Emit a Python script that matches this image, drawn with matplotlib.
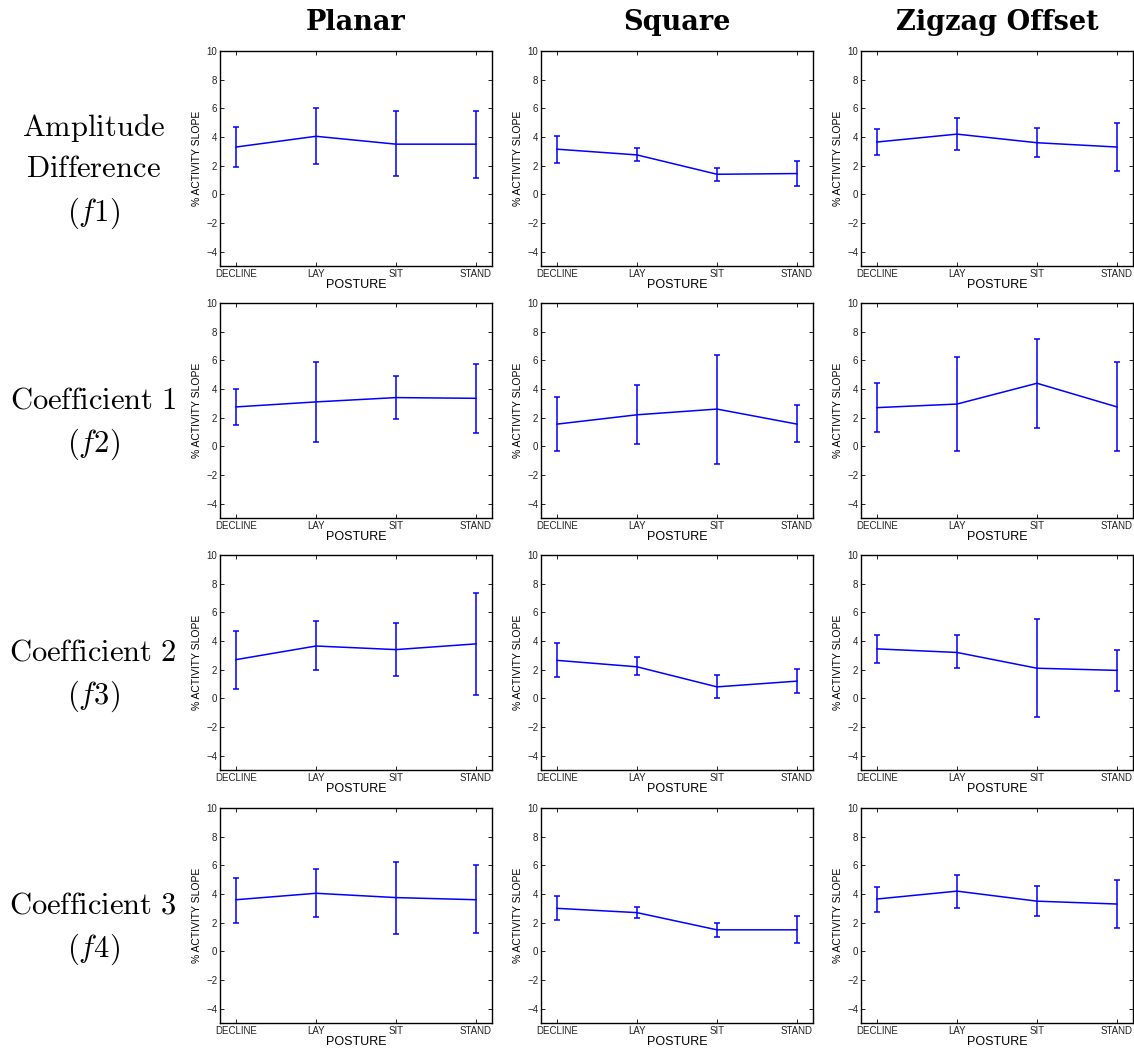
import numpy as np
import matplotlib
matplotlib.use("Agg")
import matplotlib.pyplot as plt

plt.rcParams['font.family'] = ['Liberation Sans', 'DejaVu Sans']
plt.rcParams['mathtext.fontset'] = 'cm'

postures = ['DECLINE', 'LAY', 'SIT', 'STAND']
shapes = ['Planar', 'Square', 'Zigzag Offset']
features = ['Amplitude\nDifference', 'Coefficient 1', 'Coefficient 2', 'Coefficient 3']
feature_tags = ['f1', 'f2', 'f3', 'f4']

# mean, lower end and upper end of each error bar, per feature row and shape column
f1_mean = [[3.3, 4.05, 3.5, 3.5], [3.15, 2.75, 1.4, 1.45], [3.65, 4.2, 3.6, 3.3]]
f1_low = [[1.9, 2.1, 1.25, 1.15], [2.2, 2.35, 0.95, 0.55], [2.75, 3.1, 2.6, 1.6]]
f1_high = [[4.7, 6.0, 5.8, 5.8], [4.1, 3.2, 1.85, 2.35], [4.55, 5.3, 4.65, 4.95]]

f2_mean = [[2.75, 3.1, 3.4, 3.35], [1.55, 2.2, 2.6, 1.55], [2.7, 2.95, 4.4, 2.75]]
f2_low = [[1.5, 0.3, 1.9, 0.95], [-0.35, 0.15, -1.2, 0.3], [1.0, -0.3, 1.3, -0.35]]
f2_high = [[4.0, 5.9, 4.9, 5.75], [3.45, 4.3, 6.4, 2.85], [4.45, 6.2, 7.5, 5.85]]

f3_mean = [[2.7, 3.65, 3.4, 3.8], [2.65, 2.2, 0.8, 1.2], [3.45, 3.2, 2.1, 1.95]]
f3_low = [[0.65, 1.95, 1.55, 0.25], [1.5, 1.6, 0.0, 0.4], [2.45, 2.1, -1.3, 0.5]]
f3_high = [[4.7, 5.4, 5.25, 7.35], [3.85, 2.85, 1.6, 2.05], [4.45, 4.4, 5.55, 3.4]]

f4_mean = [[3.6, 4.05, 3.75, 3.6], [3.0, 2.7, 1.5, 1.5], [3.65, 4.2, 3.5, 3.3]]
f4_low = [[2.0, 2.4, 1.2, 1.25], [2.2, 2.35, 1.0, 0.6], [2.75, 3.05, 2.5, 1.65]]
f4_high = [[5.1, 5.75, 6.25, 6.0], [3.85, 3.1, 2.0, 2.45], [4.5, 5.35, 4.55, 4.95]]

means = [f1_mean, f2_mean, f3_mean, f4_mean]
lows = [f1_low, f2_low, f3_low, f4_low]
highs = [f1_high, f2_high, f3_high, f4_high]

W, H = 1134, 1048
fig = plt.figure(figsize=(W / 100, H / 100), dpi=100)

col_left = [220, 541, 861]
row_top = [51, 303, 555, 808]
aw, ah = 272, 215
x = np.arange(1, 5)

for r in range(4):
    for c in range(3):
        ax = fig.add_axes([col_left[c] / W, 1 - (row_top[r] + ah) / H, aw / W, ah / H])
        m = np.array(means[r][c])
        lo = m - np.array(lows[r][c])
        hi = np.array(highs[r][c]) - m
        ax.errorbar(x, m, yerr=[lo, hi], color='#0000ff', lw=1.1, elinewidth=1.1,
                    capsize=2.5, capthick=1.1)
        ax.set_xlim(0.8, 4.2)
        ax.set_ylim(-5, 10)
        ax.set_xticks(x)
        ax.set_xticklabels(postures)
        ax.set_yticks(np.arange(-4, 11, 2))
        ax.set_yticklabels(['\u22124', '\u22122', '0', '2', '4', '6', '8', '10'])
        ax.tick_params(direction='in', length=3, width=0.6, labelsize=7, pad=2,
                       top=True, right=True, colors='black', labelcolor='#222222')
        for s in ax.spines.values():
            s.set_linewidth(1.0)
        ax.set_xlabel('POSTURE', fontsize=9, labelpad=0)
        ax.set_ylabel('% ACTIVITY SLOPE', fontsize=7.5, labelpad=3)
        if r == 0:
            ax.set_title(shapes[c], fontsize=19.5, fontweight='bold',
                         family='DejaVu Serif', pad=15)

for r in range(4):
    yc = 1 - (row_top[r] + ah / 2 + 13) / H
    lines = features[r].split('\n')
    label = '\n'.join(r'$\mathrm{' + ln.replace(' ', r'\ ') + '}$' for ln in lines)
    label += '\n' + r'$\mathit{(' + feature_tags[r] + ')}$'
    fig.text(93 / W, yc, label, ha='center', va='center', fontsize=22,
             linespacing=1.45)

fig.savefig('out.png', dpi=100)
